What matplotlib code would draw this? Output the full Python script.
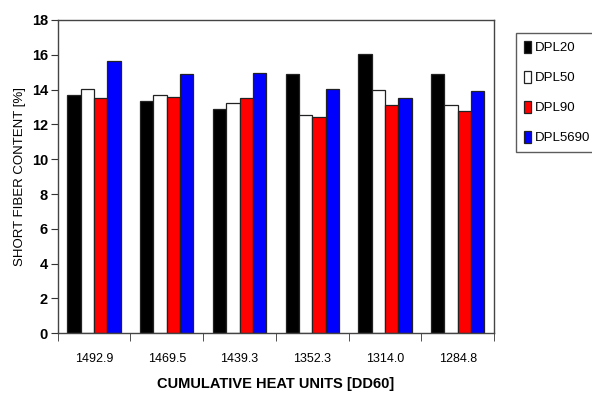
import matplotlib.pyplot as plt
import numpy as np

# data
heat_units = ["1492.9", "1469.5", "1439.3", "1352.3", "1314.0", "1284.8"]
dpl20 = [13.7, 13.35, 12.9, 14.9, 16.05, 14.9]
dpl50 = [14.05, 13.7, 13.25, 12.55, 13.95, 13.1]
dpl90 = [13.5, 13.6, 13.5, 12.45, 13.1, 12.8]
dpl5690 = [15.65, 14.9, 14.95, 14.05, 13.5, 13.9]

series = [("DPL20", dpl20, "black"), ("DPL50", dpl50, "white"),
          ("DPL90", dpl90, "red"), ("DPL5690", dpl5690, "blue")]

plt.rcParams['font.family'] = ['Liberation Sans', 'DejaVu Sans']

fig = plt.figure(figsize=(5.92, 4.04), dpi=100)
ax = fig.add_axes([0.0975, 0.175, 0.737, 0.7755])

x = np.arange(len(heat_units))
w = 0.183
for i, (name, vals, col) in enumerate(series):
    ax.bar(x + (i - 1.5) * w, vals, w, color=col, edgecolor="#222222",
           linewidth=0.9, label=name)

ax.set_xlim(-0.5, len(heat_units) - 0.5)
ax.set_ylim(0, 18)
ax.set_yticks(range(0, 19, 2))
ax.set_yticklabels([str(v) for v in range(0, 19, 2)], fontsize=10.5, fontweight='bold')

ax.set_xticks(x)
ax.set_xticklabels(heat_units, fontsize=9)
ax.set_xticks(np.arange(-0.5, len(heat_units)), minor=True)
ax.tick_params(axis='x', which='major', length=0, pad=14)
ax.tick_params(axis='x', which='minor', length=6, direction='out', color='#333333')
ax.tick_params(axis='y', length=5, direction='out', color='#333333', pad=2)

for s in ax.spines.values():
    s.set_color('#444444')
    s.set_linewidth(1.0)

ax.set_xlabel("CUMULATIVE HEAT UNITS [DD60]", fontsize=10.5, fontweight='bold', labelpad=9)
ax.set_ylabel("SHORT FIBER CONTENT [%]", fontsize=9.5, labelpad=4)

leg = fig.legend(loc='upper left', bbox_to_anchor=(0.872, 0.918), fontsize=9.5,
                 frameon=True, fancybox=False, edgecolor='#333333',
                 handlelength=0.5, handleheight=1.0, handletextpad=0.3,
                 labelspacing=1.25, borderpad=0.6, borderaxespad=0)
leg.get_frame().set_linewidth(1.0)

fig.savefig("out.png", dpi=100)
